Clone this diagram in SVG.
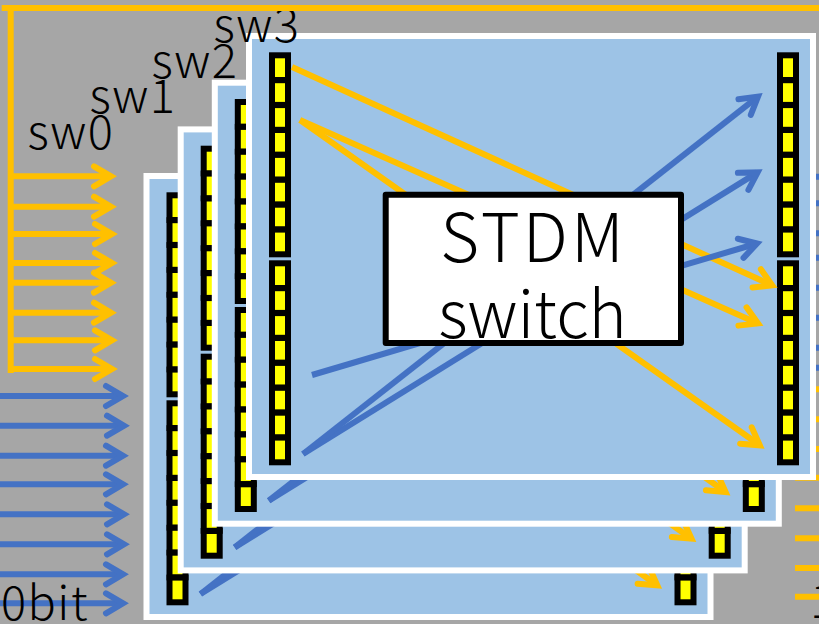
<svg xmlns="http://www.w3.org/2000/svg" width="819" height="624" viewBox="0 0 819 624">
<style>
.bg{fill:#A6A6A6}
.panel{fill:#9DC3E6;stroke:#FFFFFF;stroke-width:6}
.cell{fill:#FFFF00;stroke:#000000;stroke-width:6}
.y{stroke:#FFC000;stroke-width:6;fill:none}
.b{stroke:#4472C4;stroke-width:6;fill:none}
.ya{marker-end:url(#ah-y)}
.ba{marker-end:url(#ah-b)}
.box{fill:#FFFFFF;stroke:#000000;stroke-width:6;stroke-linejoin:round}
text{font-family:"Noto Sans CJK JP","Noto Sans",sans-serif;font-weight:300;fill:#000000}
.sw{font-size:47px;letter-spacing:1.5px}
.big{font-size:65px;text-anchor:middle}
</style>
<defs>
<marker id="ah-y" markerUnits="userSpaceOnUse" markerWidth="40" markerHeight="40" refX="30" refY="20" orient="auto" overflow="visible">
<path d="M13,10 L30,20 L13,30" fill="none" stroke="#FFC000" stroke-width="6" stroke-linecap="round" stroke-linejoin="miter"/>
</marker>
<marker id="ah-b" markerUnits="userSpaceOnUse" markerWidth="40" markerHeight="40" refX="30" refY="20" orient="auto" overflow="visible">
<path d="M13,10 L30,20 L13,30" fill="none" stroke="#4472C4" stroke-width="6" stroke-linecap="round" stroke-linejoin="miter"/>
</marker>
<g id="column">
<rect class="cell" x="0" y="55.3" width="16" height="24.7"/>
<rect class="cell" x="0" y="80.2" width="16" height="24.7"/>
<rect class="cell" x="0" y="105.1" width="16" height="24.7"/>
<rect class="cell" x="0" y="130" width="16" height="24.7"/>
<rect class="cell" x="0" y="154.9" width="16" height="24.7"/>
<rect class="cell" x="0" y="179.8" width="16" height="24.7"/>
<rect class="cell" x="0" y="204.7" width="16" height="24.7"/>
<rect class="cell" x="0" y="229.6" width="16" height="24.7"/>
<rect class="cell" x="0" y="263.3" width="16" height="24.7"/>
<rect class="cell" x="0" y="288.2" width="16" height="24.7"/>
<rect class="cell" x="0" y="313.1" width="16" height="24.7"/>
<rect class="cell" x="0" y="338" width="16" height="24.7"/>
<rect class="cell" x="0" y="362.9" width="16" height="24.7"/>
<rect class="cell" x="0" y="387.8" width="16" height="24.7"/>
<rect class="cell" x="0" y="412.7" width="16" height="24.7"/>
<rect class="cell" x="0" y="437.6" width="16" height="24.7"/>
</g>
<g id="switch">
<rect class="panel" x="249" y="36" width="564" height="441"/>
<use href="#column" x="272" y="0"/>
<use href="#column" x="780" y="0"/>
<path class="y ya" d="M292,67 L772.2,285.4"/>
<path class="y ya" d="M300,120 L758,323.4"/>
<path class="y ya" d="M300,120 L759.8,445.3"/>
<path class="b ba" d="M312,375 L757,243.5"/>
<path class="b ba" d="M303,454 L757.6,172.4"/>
<path class="b ba" d="M303,454 L758,96.6"/>
</g>
</defs>
<rect class="bg" x="0" y="0" width="819" height="624"/>
<g id="connectors">
<path class="y" d="M10.7,8 V373"/>
<path class="y ya" d="M11,176.3 H111"/>
<path class="y ya" d="M11,206.7 H111"/>
<path class="y ya" d="M11,234 H112"/>
<path class="y ya" d="M11,263 H112"/>
<path class="y ya" d="M11,282.7 H111"/>
<path class="y ya" d="M11,312.7 H111"/>
<path class="y ya" d="M11,340.3 H112"/>
<path class="y ya" d="M11,369 H112"/>
<path class="b ba" d="M0,396 H123"/>
<path class="b ba" d="M0,425.7 H124"/>
<path class="b ba" d="M0,455.7 H123"/>
<path class="b ba" d="M0,484.3 H123"/>
<path class="b ba" d="M0,514.3 H124"/>
<path class="b ba" d="M0,544.3 H124"/>
<path class="b ba" d="M0,574.3 H123"/>
<path class="b ba" d="M0,603.3 H123"/>
<path class="b" d="M795,176.7 H819 M795,203.3 H819 M795,233.3 H819 M795,257.7 H819 M795,287.7 H819 M795,317.7 H819 M795,347.7 H819 M795,367.7 H819"/>
<path class="y" d="M795,389.3 H819 M795,419.3 H819 M795,449 H819 M795,477.7 H819 M795,508.3 H819 M795,538.3 H819 M795,568 H819 M795,596.7 H819"/>
</g>
<g id="sw0"><use href="#switch" x="-102.5" y="140"/></g>
<g id="sw1"><use href="#switch" x="-68.3" y="93.4"/></g>
<g id="sw2"><use href="#switch" x="-34.2" y="46.7"/></g>
<g id="sw3"><use href="#switch" x="0" y="0"/></g>
<g id="stdm-switch">
<rect class="box" x="385.7" y="194.7" width="295.3" height="148.3"/>
<text class="big" x="533.5" y="261.7" font-size="67" letter-spacing="3" style="font-size:67px">STDM</text>
<text class="big" x="532.5" y="338">switch</text>
</g>
<g id="labels">
<text class="sw" x="27.5" y="149">sw0</text>
<text class="sw" x="89.5" y="112.7">sw1</text>
<text class="sw" x="151.5" y="77.7">sw2</text>
<text class="sw" x="213.5" y="41.7">sw3</text>
<text class="sw" x="89" y="620" text-anchor="end">70bit</text>
<text class="sw" x="810" y="618">1</text>
</g>
<path id="top-bus" class="y" d="M1.7,8 H819"/>
</svg>
